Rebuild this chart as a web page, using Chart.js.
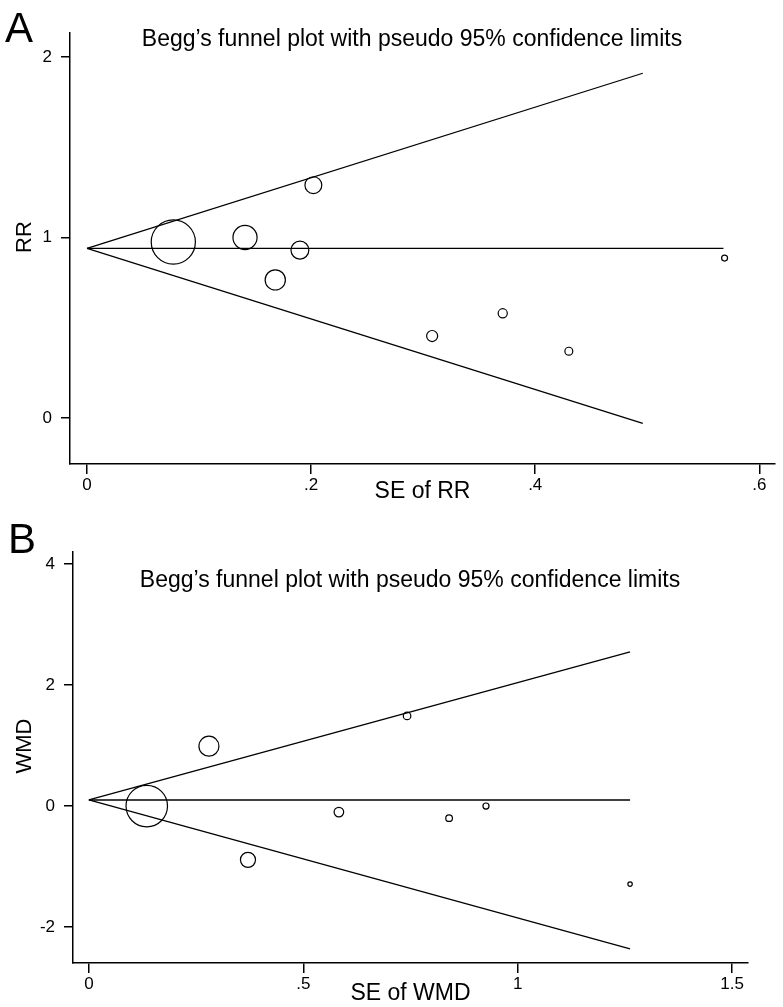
<!DOCTYPE html>
<html>
  <head>
    <meta charset="utf-8" />
    <title>Begg's funnel plots</title>
    <script src="https://cdn.jsdelivr.net/npm/chart.js@4.4.0/dist/chart.umd.min.js"></script>
    <style>
      body { margin: 0; background: #fff; }
      #wrap { position: relative; width: 783px; height: 1007px; }
      canvas { position: absolute; left: 0; }
      #panelA { top: 0; }
      #panelB { top: 505px; }
    </style>
  </head>
  <body>
    <div id="wrap">
      <canvas id="panelA" width="783" height="505"></canvas>
      <canvas id="panelB" width="783" height="502"></canvas>
    </div>
    <script>
      // panel A: RR studies
      const seRR = [0.077, 0.141, 0.168, 0.190, 0.202, 0.308, 0.371, 0.430, 0.569];
      const rr = [0.975, 1.0, 0.765, 0.93, 1.29, 0.454, 0.58, 0.37, 0.886];
      const pooledRR = 0.94;
      const limitEndSeRR = 0.496;
      const lineEndSeRR = 0.568;
      const upperRR = 1.91;
      const lowerRR = -0.03;
      const xTicksRR = [0, 0.2, 0.4, 0.6];
      const yTicksRR = [0, 1, 2];

      // panel B: WMD studies
      const seWMD = [0.135, 0.28, 0.371, 0.583, 0.742, 0.84, 0.926, 1.262];
      const wmd = [0.0, 0.99, -0.89, -0.1, 1.49, -0.2, 0.0, -1.29];
      const pooledWMD = 0.1;
      const limitEndSeWMD = 1.262;
      const lineEndSeWMD = 1.262;
      const upperWMD = 2.55;
      const lowerWMD = -2.36;
      const xTicksWMD = [0, 0.5, 1, 1.5];
      const yTicksWMD = [-2, 0, 2, 4];

      const TITLE = "Begg\u2019s funnel plot with pseudo 95% confidence limits";
      const FONT = "'Liberation Sans', Arial, Helvetica, sans-serif";

      function fmtTick(v) {
        const s = String(Math.round(v * 10) / 10);
        return s.replace(/^0\./, ".").replace(/^-0\./, "-.");
      }

      const textPlugin = {
        id: "panelText",
        afterDraw(chart, args, opts) {
          const ctx = chart.ctx;
          ctx.save();
          ctx.fillStyle = "#000";
          ctx.textBaseline = "alphabetic";
          ctx.textAlign = "left";
          ctx.font = "42px " + FONT;
          ctx.fillText(opts.letter, opts.letterX, opts.letterY);
          ctx.textAlign = "center";
          ctx.textBaseline = "middle";
          ctx.font = "23px " + FONT;
          ctx.fillText(TITLE, opts.titleX, opts.titleY);
          ctx.translate(opts.yTitleX, opts.yTitleY);
          ctx.rotate(-Math.PI / 2);
          ctx.font = "22px " + FONT;
          ctx.fillText(opts.yTitle, 0, 0);
          ctx.restore();
        }
      };

      function makeChart({ id, se, eff, pooled, limitEnd, lineEnd, upper, lower,
                           xTicks, yTicks, xMin, xMax, yMin, yMax, k,
                           yWidth, xHeight, padTop, padRight, xTitle, text }) {
        const lineStyle = {
          type: "line",
          borderColor: "#000",
          borderWidth: 1.3,
          pointRadius: 0,
          fill: false
        };
        return new Chart(document.getElementById(id), {
          type: "scatter",
          data: {
            datasets: [
              Object.assign({ data: [{ x: 0, y: pooled }, { x: limitEnd, y: upper }] }, lineStyle),
              Object.assign({ data: [{ x: 0, y: pooled }, { x: lineEnd, y: pooled }] }, lineStyle),
              Object.assign({ data: [{ x: 0, y: pooled }, { x: limitEnd, y: lower }] }, lineStyle),
              {
                data: se.map((x, i) => ({ x, y: eff[i] })),
                pointRadius: c => (c.raw ? k / c.raw.x : 0),
                pointBorderColor: "#000",
                pointBackgroundColor: "rgba(0,0,0,0)",
                pointBorderWidth: 1.2,
                clip: false
              }
            ]
          },
          options: {
            responsive: false,
            animation: false,
            devicePixelRatio: 1,
            layout: { autoPadding: false, padding: { top: padTop, right: padRight, left: 0, bottom: 0 } },
            plugins: {
              legend: { display: false },
              tooltip: { enabled: false },
              panelText: text
            },
            scales: {
              x: {
                type: "linear",
                min: xMin,
                max: xMax,
                afterFit: s => { s.height = xHeight; },
                afterBuildTicks: s => { s.ticks = xTicks.map(v => ({ value: v })); },
                border: { display: true, color: "#000", width: 1.5 },
                grid: { display: true, drawOnChartArea: false, drawTicks: true, tickLength: 10, color: "#000", lineWidth: 1.5 },
                ticks: { color: "#000", font: { family: FONT, size: 17 }, padding: 1, maxRotation: 0, callback: fmtTick },
                title: { display: true, text: xTitle, color: "#000", font: { family: FONT, size: 23 }, padding: { top: 0, bottom: 0 } }
              },
              y: {
                type: "linear",
                min: yMin,
                max: yMax,
                afterFit: s => { s.width = yWidth; },
                afterBuildTicks: s => { s.ticks = yTicks.map(v => ({ value: v })); },
                border: { display: true, color: "#000", width: 1.5 },
                grid: { display: true, drawOnChartArea: false, drawTicks: true, tickLength: 9, color: "#000", lineWidth: 1.5 },
                ticks: { color: "#000", font: { family: FONT, size: 17 }, padding: 9, callback: fmtTick }
              }
            }
          },
          plugins: [textPlugin]
        });
      }

      makeChart({
        id: "panelA", se: seRR, eff: rr, pooled: pooledRR,
        limitEnd: limitEndSeRR, lineEnd: lineEndSeRR, upper: upperRR, lower: lowerRR,
        xTicks: xTicksRR, yTicks: yTicksRR,
        xMin: -0.0152, xMax: 0.614, yMin: -0.255, yMax: 2.133, k: 1.7,
        yWidth: 70, xHeight: 41, padTop: 33, padRight: 8, xTitle: "SE of RR",
        text: { letter: "A", letterX: 5, letterY: 42, titleX: 412, titleY: 40, yTitle: "RR", yTitleX: 25, yTitleY: 237 }
      });

      makeChart({
        id: "panelB", se: seWMD, eff: wmd, pooled: pooledWMD,
        limitEnd: limitEndSeWMD, lineEnd: lineEndSeWMD, upper: upperWMD, lower: lowerWMD,
        xTicks: xTicksWMD, yTicks: yTicksWMD,
        xMin: -0.037, xMax: 1.537, yMin: -2.595, yMax: 4.2, k: 2.8,
        yWidth: 73, xHeight: 44, padTop: 47, padRight: 35, xTitle: "SE of WMD",
        text: { letter: "B", letterX: 8, letterY: 48, titleX: 410, titleY: 76, yTitle: "WMD", yTitleX: 25, yTitleY: 241 }
      });
    </script>
  </body>
</html>
